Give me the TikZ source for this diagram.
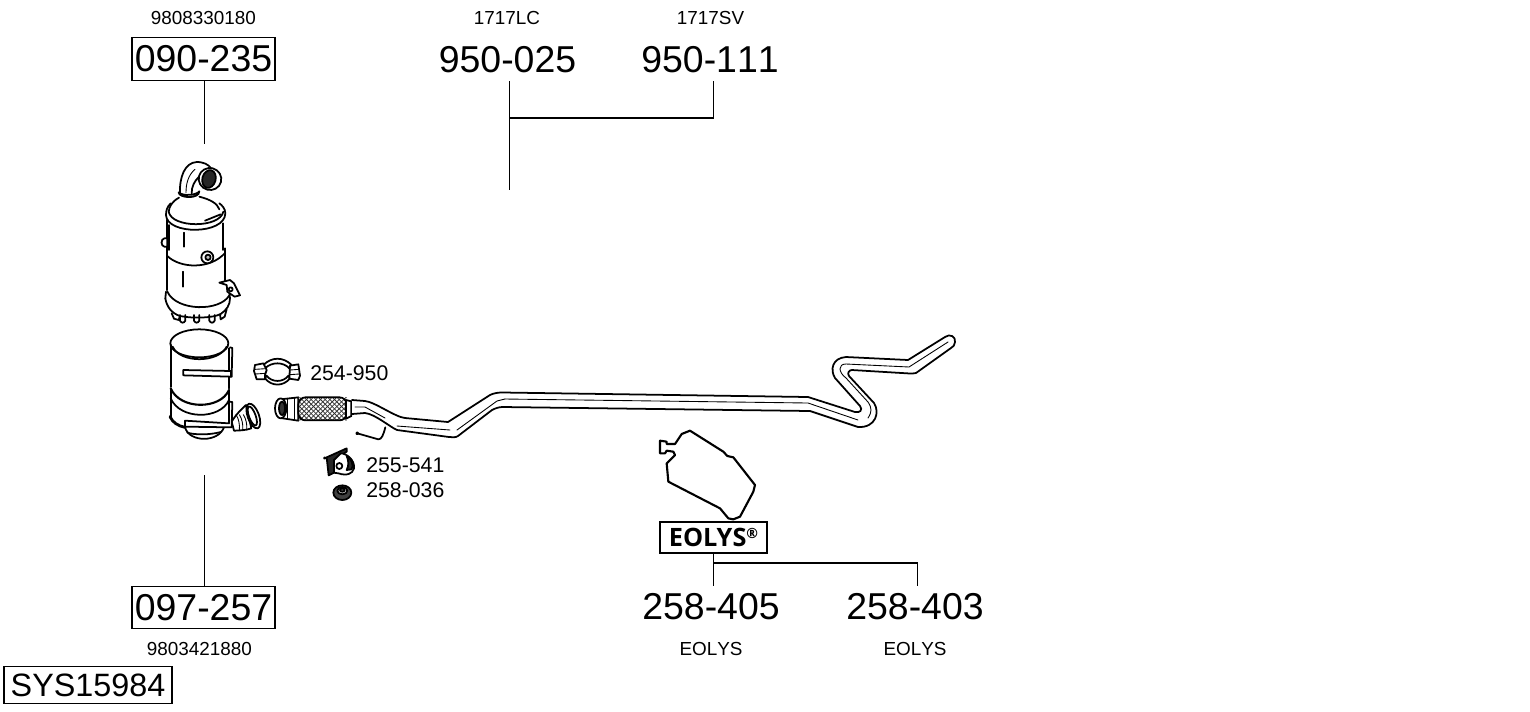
\documentclass[tikz,border=0pt]{standalone}
\usepackage{xcolor}
\usepackage{fontspec}
\setmainfont[Kerning=Off]{Liberation Sans}
\newfontfamily\eolysfont{Open Sans}
\tikzset{
    bigcode/.style={inner sep=0pt, font=\fontsize{21.3}{24}\selectfont},
    smallcode/.style={inner sep=0pt, font=\fontsize{10.75}{13}\selectfont},
    fitcode/.style={inner sep=0pt, font=\fontsize{12.1}{14}\selectfont},
    codebox/.style={bigcode, draw, line width=0.8pt, minimum width=2.86cm, minimum height=0.85cm},
    leader/.style={line width=0.85pt},
    part/.style={draw, line width=1pt, line cap=round, line join=round},
    thinpart/.style={draw, line width=0.5pt, line cap=round, line join=round},
}
\begin{document}
\begin{tikzpicture}[x=0.02cm, y=-0.02cm]
        \useasboundingbox (0,0) rectangle (1530,711);
        % part numbers
        \foreach \n/\x/\y/\w in {a/507.5/60/950-025, b/710/60/950-111, c/711/607/258-405, d/915/607/258-403}{
            \node[bigcode, minimum height=0.84cm] (code\n) at(\x,\y) {\w};
        }
        \foreach \n/\x/\y/\w in {a/203.5/18/9808330180, b/507/18/1717LC, c/710.5/18/1717SV, d/199.5/649/9803421880, e/711/649/EOLYS, f/915/649/EOLYS}{
            \node[smallcode] (ref\n) at(\x,\y) {\w};
        }
        \foreach \n/\y/\w in {a/373/254-950}{
            \node[fitcode, anchor=west] (fit\n) at(310,\y) {\w};
        }
        \foreach \n/\y/\w in {b/465/255-541, c/490/258-036}{
            \node[fitcode, anchor=west] (fit\n) at(366,\y) {\w};
        }
        \node[codebox] (top) at(203.5,59) {090-235};
        \node[codebox] (bot) at(203.5,607.5) {097-257};
        \node[draw, line width=0.8pt, inner sep=0pt, minimum width=3.36cm, minimum height=0.74cm, font=\fontsize{18.4}{20}\selectfont] (sys) at(88,685) {SYS15984};
        \node[draw, line width=0.9pt, inner sep=0pt, minimum width=2.14cm, minimum height=0.62cm, font=\eolysfont\bfseries\fontsize{14.4}{16}\selectfont] (eolys) at(713.5,537.5) {EOLYS\raisebox{0.55ex}{\fontsize{8}{8}\selectfont ®}};

        % leaders
        \coordinate (topend) at(204.5,144);
        \coordinate (botend) at(204.5,475);
        \coordinate (midend) at(509.5,190);
        \coordinate (midjoin) at(509.5,118);
        \coordinate (rightjoin) at(713.5,118);
        \coordinate (lowjoin) at(713.5,563);
        \coordinate (farjoin) at(917.5,563);
        \path[draw, leader] (top.south -| topend) -- (topend);
        \path[draw, leader] (bot.north -| botend) -- (botend);
        \path[draw, leader] (codea.south -| midjoin) -- (midend);
        \path[draw, leader] (midjoin) -- (rightjoin) -- (codeb.south -| rightjoin);
        \path[draw, leader] (eolys.south -| lowjoin) -- (codec.north -| lowjoin);
        \path[draw, leader] (lowjoin) -- (farjoin) -- (coded.north -| farjoin);

        % upper filter
        \begin{scope}[shift={(130,150)}, scale=1/3]
            \path[part] (150,130) .. controls (148,80) and (165,38) .. (200,36) .. controls (222,36) and (235,44) .. (243,54);
            \path[part] (185,130) .. controls (185,110) and (192,95) .. (207,80);
            \path[thinpart] (168,128) .. controls (168,100) and (175,75) .. (195,58);
            \path[part, fill=white, rotate around={-15:(240,87)}] (240,87) ellipse (34 and 33);
            \path[part, fill=black!85, rotate around={-15:(237,87)}] (237,87) ellipse (20 and 27);
            \path[part, fill=white] (146,127) .. controls (146,145) and (208,148) .. (208,124) .. controls (200,135) and (160,140) .. (146,127);
            \path[part] (147,143) .. controls (125,155) and (118,170) .. (116,185);
            \path[part] (208,140) .. controls (240,148) and (262,160) .. (268,178);
            \path[part] (108,195) .. controls (110,255) and (285,255) .. (286,190) .. controls (286,175) and (275,165) .. (268,160);
            \path[part] (108,195) .. controls (108,180) and (112,170) .. (122,160);
            \path[part] (116,185) .. controls (125,235) and (270,235) .. (280,185);
            \path[part] (225,212) -- (272,193);
            \path[part, line width=1.2pt] (110,210) -- (110,420);
            \path[part] (118,225) -- (118,300);
            \path[part] (280,220) -- (280,300);
            \path[part, line width=1.2pt] (286,295) -- (286,400);
            \path[part] (112,318) .. controls (150,355) and (240,360) .. (286,308);
            \path[part, fill=white] (103,265) -- (112,265) -- (112,290) -- (103,290) .. controls (92,288) and (92,267) .. (103,265);
            \path[part] (161,248) -- (161,290);
            \path[part] (158,365) -- (158,410);
            \path[part, fill=white] (232,322) circle (18);
            \path[part, fill=black!25] (234,322) circle (8);
            \path[part] (112,425) .. controls (140,485) and (270,485) .. (298,436);
            \foreach \tx in {150,192,238}{
                \path[part, fill=white] (\tx,495) -- (\tx,512) .. controls (\tx+4,520) and (\tx+12,520) .. (\tx+16,512) -- (\tx+16,495);
            }
            \path[part] (106,445) .. controls (110,470) and (125,490) .. (150,498) .. controls (190,506) and (250,504) .. (272,492) .. controls (290,480) and (300,465) .. (300,445) -- (298,428);
            \path[part] (106,445) -- (108,425);
            \path[part] (125,490) -- (132,506) -- (146,510) -- (150,498);
            \path[part] (270,493) -- (272,508) -- (284,500) -- (290,478);
            \path[part, fill=white] (268,398) -- (300,390) -- (312,400) -- (330,436) -- (314,440) -- (302,432) -- (292,425) -- (290,405) -- cycle;
            \path[part, fill=white] (302,418) circle (6);
        \end{scope}

        % lower filter
        \begin{scope}[shift={(150,320)}, scale=1/3]
            \path[part] (148,70) ellipse (87 and 42);
            \path[part] (68,80) .. controls (90,130) and (205,130) .. (230,80);
            \path[part, line width=1.2pt] (62,75) -- (62,200);
            \path[part] (237,85) -- (237,205);
            \path[part, line width=1.2pt] (62,205) .. controls (90,270) and (210,270) .. (237,210);
            \path[part] (62,235) .. controls (90,300) and (210,300) .. (237,240);
            \path[part, line width=1.2pt] (62,205) -- (62,295);
            \path[part] (237,210) -- (237,245);
            \path[part] (240,82) -- (247,84) -- (245,170) -- (238,168);
            \path[part, fill=white] (100,150) -- (243,153) -- (243,170) -- (100,166) -- cycle;
            \path[part, line width=1.6pt] (60,290) .. controls (68,308) and (85,318) .. (105,322);
            \path[part] (105,322) .. controls (118,368) and (205,368) .. (222,322);
            \path[part] (112,338) .. controls (135,345) and (180,345) .. (212,336);
            \path[part, fill=white] (245,305) .. controls (250,296) and (265,275) .. (288,255) -- (304,325) .. controls (290,330) and (270,332) .. (252,332) -- cycle;
            \foreach \rx in {258,268,280}{
                \path[thinpart] (\rx,284) .. controls (\rx+8,295) and (\rx+12,315) .. (\rx+10,330);
            }
            \path[part, fill=white, rotate around={20:(310,288)}] (310,288) ellipse (17 and 39);
            \path[part, rotate around={20:(307,288)}] (307,288) ellipse (10 and 30);
            \path[part, fill=white] (237,245) -- (247,246) -- (245,322) -- (105,320) -- (105,302) -- (237,310) -- cycle;
            % flange clamp
            \path[part, fill=white] (340,135) .. controls (365,110) and (400,110) .. (425,135) -- (418,145) .. controls (400,125) and (365,125) .. (345,145) -- cycle;
            \path[part, fill=white] (345,175) .. controls (365,200) and (400,200) .. (420,175) -- (415,167) .. controls (400,188) and (365,188) .. (350,167) -- cycle;
            \path[part, fill=white] (315,135) -- (340,130) -- (350,150) -- (345,165) -- (345,178) -- (320,178) -- (312,153) -- cycle;
            \path[part, fill=white] (420,137) -- (445,133) -- (450,167) -- (445,180) -- (418,176) -- cycle;
            \path[thinpart] (316,148) -- (346,146) (316,162) -- (346,160) (420,150) -- (447,148) (420,164) -- (447,162);
            % flexible section
            \path[part, fill=white] (392,238) -- (445,232) -- (445,302) -- (392,294) -- cycle;
            \path[part, fill=white] (392,265) ellipse (17 and 30);
            \path[part, fill=black!80] (396,265) ellipse (9 and 20);
            \path[thinpart] (412,238) -- (412,296) (432,234) -- (432,300);
            \begin{scope}
                \clip (445,232) rectangle (590,301);
                \foreach \d in {-80,-66,...,240}{
                    \path[draw, black!80, line width=0.45pt] (445+\d,232) -- (445+\d+69,301);
                    \path[draw, black!80, line width=0.45pt] (445+\d,301) -- (445+\d+69,232);
                }
            \end{scope}
            \path[part, rounded corners=4] (445,232) rectangle (590,301);
            \path[part, fill=white] (588,240) -- (604,244) -- (604,288) -- (588,296) -- cycle;
            % wire
            \path[part, line width=1pt] (622,340) -- (685,358) .. controls (695,358) and (700,345) .. (706,322);
            \path[part, fill=black] (622,340) circle (3);
            % isolator
            \path[part, fill=black!85] (530,412) -- (590,385) -- (590,395) -- (552,420) -- (552,458) -- (536,466) -- cycle;
            \path[part, fill=white] (552,420) -- (572,400) .. controls (590,400) and (615,420) .. (612,445) .. controls (608,462) and (590,468) .. (565,460) -- (552,458) -- cycle;
            \path[part, fill=black!85] (590,408) .. controls (605,418) and (612,435) .. (605,448) -- (590,450) .. controls (598,435) and (595,420) .. (590,408) -- cycle;
            \path[part, fill=white] (568,438) circle (9);
            \path[part, fill=black] (524,414) circle (2);
            % nut
            \path[part, fill=black!75] (577,518) ellipse (27 and 22);
            \path[part, fill=black!20] (577,512) ellipse (15 and 11);
            \path[part, fill=black!70] (577,510) ellipse (7 and 5);
        \end{scope}

        % main pipe
        \path[part, fill=white] (352,400) -- (365,401) .. controls (375,402) and (395,417) .. (405,418) -- (448,422) -- (490,395) .. controls (494,393) and (498,392.5) .. (503,392.5) -- (808,397) -- (855,412) .. controls (860,413) and (863,410) .. (860,406) -- (835,378) .. controls (830,370) and (832,358) .. (846,357) -- (908,360) -- (945,337) .. controls (950,333) and (956,337) .. (955,342) .. controls (955,345) and (953,347) .. (951,348) -- (916,373) .. controls (914,373) and (912,374) .. (910,373.5) -- (852,370) .. controls (849,370) and (847,373) .. (849,376) -- (874,403) .. controls (880,412) and (876,428) .. (858,427) -- (810,411) -- (503,407) .. controls (499,407) and (496,408) .. (492,410) -- (458,436) .. controls (456,437.5) and (452,437.5) .. (449,437) -- (397,430) .. controls (390,427) and (375,414) .. (365,413) -- (352,414);
        \path[thinpart] (505,399) -- (808,403) -- (858,420);
        \path[thinpart] (868,418) .. controls (872,412) and (872,408) .. (868,402) -- (846,378) .. controls (838,372) and (838,364) .. (846,364) -- (909,367) -- (948,342);
        \path[thinpart] (355,407) -- (365,407) -- (385,418);
        \path[thinpart] (397,426) -- (450,430);
        \path[thinpart] (457,430) -- (497,401) -- (505,399);

        % tank
        \begin{scope}[shift={(640,420)}, scale=1/3]
            \path[part, line width=1.2pt] (60,62) -- (80,65) -- (80,72) -- (105,72) -- (125,42) -- (150,32) -- (250,95) -- (262,108) -- (280,112) -- (345,195) -- (340,215) -- (300,290) -- (280,298) -- (265,295) -- (240,265) -- (85,185) -- (80,130) -- (105,105) -- (100,95) -- (80,92) -- (75,100) -- (60,100) -- cycle;
        \end{scope}
    \end{tikzpicture}
\end{document}
